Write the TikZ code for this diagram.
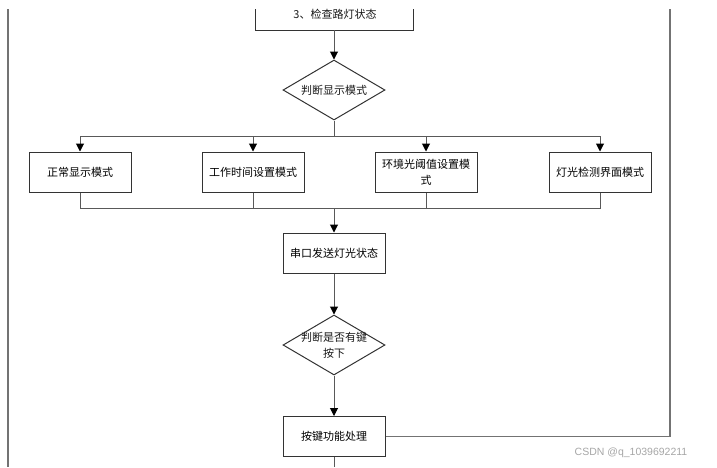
\documentclass[tikz,border=0pt]{standalone}
\usepackage{fontspec}
\setmainfont{Liberation Sans}
\newfontfamily\cjk{Noto Sans CJK SC}
\usetikzlibrary{arrows.meta,shapes.geometric}
\begin{document}
\begin{tikzpicture}[x=1pt,y=-1pt,
  font=\cjk\fontsize{11pt}{16pt}\selectfont,
  conn/.style={draw=black!65, line width=1pt},
  arr/.style={conn, -{Triangle[width=8pt,length=8pt,color=black]}},
  procbox/.style={draw=black!80, line width=1pt, rectangle, minimum width=102pt, minimum height=40pt, inner sep=0pt, align=center},
  decbox/.style={draw=black!80, line width=1pt, diamond, minimum width=102pt, minimum height=60pt, inner sep=0pt},
  txt/.style={align=center, inner sep=0pt, text=black!90}]
\useasboundingbox (0,0) rectangle (717,467);

% top (cut) box
\coordinate (tl) at (255,9);
\coordinate (tr) at (413,9);
\coordinate (tb) at (334,30);
\draw[draw=black!80, line width=1pt] (tl) |- (tr |- tb) -- (tr);
\node[txt] (t0) at (335,14) {3、检查路灯状态};

% decision 1
\node[decbox] (d1) at (334,90) {};
\node[txt] (d1t) at (d1) {判断显示模式};

% modes
\node[procbox] (m1) at (80,172) {正常显示模式};
\node[procbox] (m2) at (253,172) {工作时间设置模式};
\node[procbox] (m3) at (426,172) {环境光阈值设置模\\式};
\node[procbox] (m4) at (600,172) {灯光检测界面模式};

% serial
\node[procbox] (s1) at (334,253) {串口发送灯光状态};
\node[decbox] (d2) at (334,345) {};
\node[txt] (d2t) at (d2) {判断是否有键\\按下};
\node[procbox] (k1) at (334,436.5) {按键功能处理};

\coordinate (b1) at (334,136);
\coordinate (c1) at (334,208);
\coordinate (bot) at (334,467);
\coordinate (rt) at (670,9);
\coordinate (lt) at (8,9);
\coordinate (lb) at (8,467);

\draw[arr] (tb) -- (d1.north);
\draw[conn] (d1.south) -- (b1);
\draw[arr] (b1) -| (m1.north);
\draw[arr] (b1) -| (m2.north);
\draw[arr] (b1) -| (m3.north);
\draw[arr] (b1) -| (m4.north);
\draw[conn] (m1.south) |- (c1);
\draw[conn] (m2.south) |- (c1);
\draw[conn] (m3.south) |- (c1);
\draw[conn] (m4.south) |- (c1);
\draw[arr] (c1) -- (s1.north);
\draw[arr] (s1.south) -- (d2.north);
\draw[arr] (d2.south) -- (k1.north);
\draw[conn] (k1.south) -- (bot);
\draw[conn, draw=black!55, line width=1.3pt] (k1.east) -| (rt);
\draw[conn, draw=black!55, line width=1.3pt] (lt) -- (lb);

\node[font=\fontsize{10.5pt}{12pt}\selectfont, text=black!35, inner sep=0pt] (wm) at (631,453) {CSDN @q\_1039692211};
\end{tikzpicture}
\end{document}
